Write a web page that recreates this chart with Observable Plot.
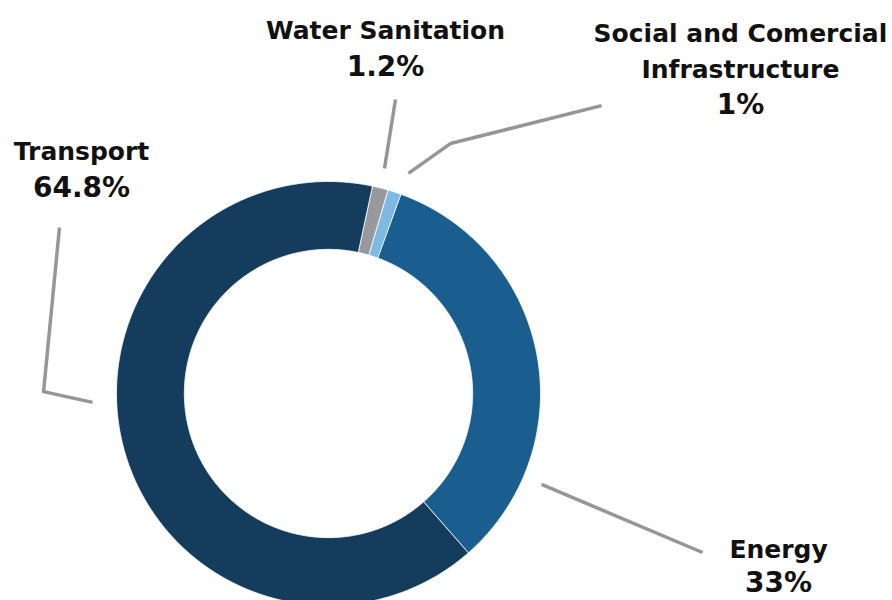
<!DOCTYPE html>
<html>
<head>
<meta charset="utf-8">
<script src="https://cdn.jsdelivr.net/npm/d3@7"></script>
<script src="https://cdn.jsdelivr.net/npm/@observablehq/plot@0.6"></script>
<style>
  html, body { margin: 0; padding: 0; background: #fff; overflow: hidden; }
  #chart svg { display: block; }
</style>
</head>
<body>
<div id="chart"></div>
<script>
// ---- data ----
const categories = ["Energy", "Transport", "Water Sanitation", "Social and Comercial Infrastructure"];
const labelLines = [["Energy"], ["Transport"], ["Water Sanitation"], ["Social and Comercial", "Infrastructure"]];
const values = [33, 64.8, 1.2, 1];
const colors = ["#1a5e8f", "#133c5d", "#98999c", "#7db9e3"];

// ---- layout (donut units: centre 0,0, outer radius 1) ----
const innerRadius = 0.68;
const startDeg = 20;
// label anchors: x, y of each name line, y of percent line
const labelX = [2.123, -1.165, 0.269, 1.943];
const labelY = [[-0.736], [1.137], [1.708], [1.698, 1.524]];
const pctY = [-0.893, 0.967, 1.538, 1.363];
const leaders = [
  [[1.005, -0.429], [1.764, -0.75]],
  [[-1.113, -0.042], [-1.344, 0.009], [-1.269, 0.783]],
  [[0.264, 1.061], [0.316, 1.387]],
  [[0.377, 1.038], [0.575, 1.179], [1.288, 1.358]]
];

// ---- build slice polygons from the pie layout ----
const pie = d3.pie().sort(null)
  .startAngle(startDeg * Math.PI / 180)
  .endAngle(startDeg * Math.PI / 180 + 2 * Math.PI)(values);
const slicePts = [];
pie.forEach((p, i) => {
  const n = Math.max(4, Math.ceil((p.endAngle - p.startAngle) / 0.01));
  for (let k = 0; k <= n; k++) {
    const a = p.startAngle + (p.endAngle - p.startAngle) * k / n;
    slicePts.push({cat: categories[i], x: Math.sin(a), y: Math.cos(a)});
  }
  for (let k = n; k >= 0; k--) {
    const a = p.startAngle + (p.endAngle - p.startAngle) * k / n;
    slicePts.push({cat: categories[i], x: innerRadius * Math.sin(a), y: innerRadius * Math.cos(a)});
  }
});

const leaderPts = [];
leaders.forEach((pts, i) => pts.forEach(([x, y]) => leaderPts.push({cat: categories[i], x, y})));

const nameRows = [];
labelLines.forEach((lines, i) => lines.forEach((t, j) => nameRows.push({text: t, x: labelX[i], y: labelY[i][j]})));
const pctRows = values.map((v, i) => ({text: v + "%", x: labelX[i], y: pctY[i]}));

const font = "DejaVu Sans";
const chart = Plot.plot({
  width: 892,
  height: 600,
  margin: 0,
  x: {domain: [-1, 1], range: [116, 540], axis: null},
  y: {domain: [-1, 1], range: [605, 181], axis: null},
  color: {domain: categories, range: colors},
  marks: [
    Plot.line(slicePts, {x: "x", y: "y", z: "cat", fill: "cat", stroke: "white", strokeWidth: 0.8, curve: "linear-closed"}),
    Plot.line(leaderPts, {x: "x", y: "y", z: "cat", stroke: "#969696", strokeWidth: 3.5, strokeLinecap: "butt"}),
    Plot.text(nameRows, {x: "x", y: "y", text: "text", fontFamily: font, fontWeight: "bold", fontSize: 25, fill: "#111", textAnchor: "middle"}),
    Plot.text(pctRows, {x: "x", y: "y", text: "text", fontFamily: font, fontWeight: "bold", fontSize: 28, fill: "#111", textAnchor: "middle"})
  ]
});
document.getElementById("chart").appendChild(chart);
</script>
</body>
</html>
